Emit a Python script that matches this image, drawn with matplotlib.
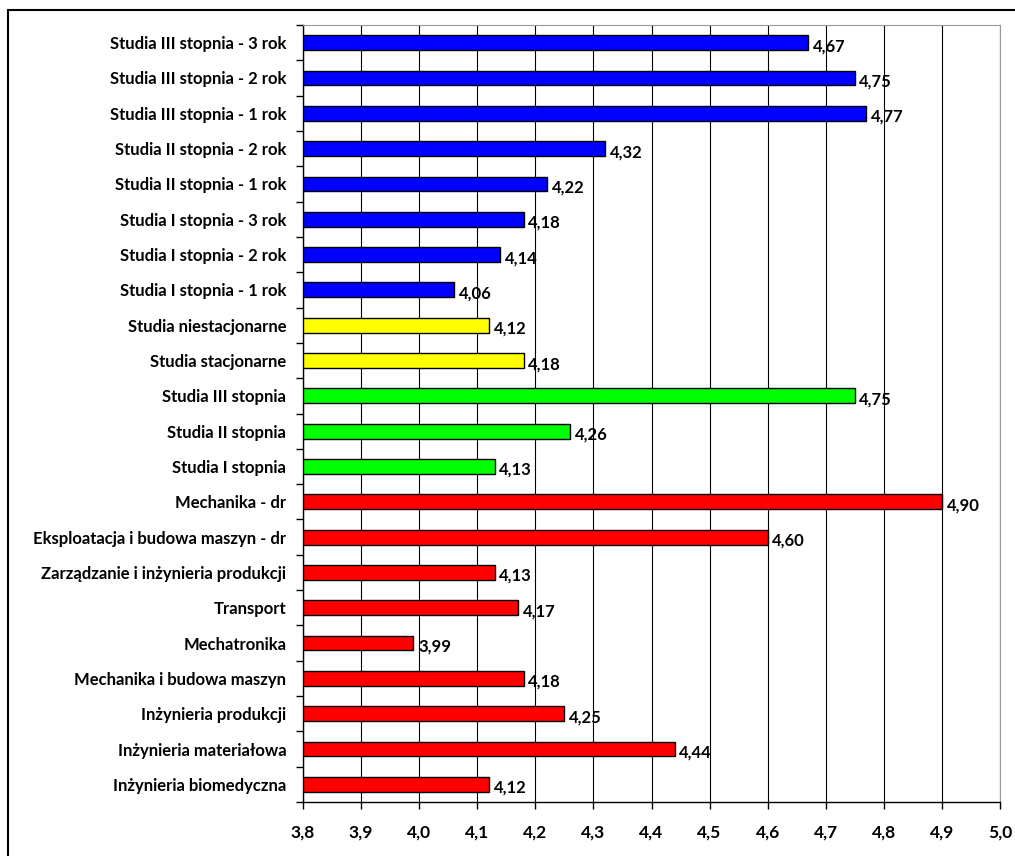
import matplotlib
matplotlib.use('Agg')
import matplotlib.pyplot as plt
from matplotlib.patches import Rectangle

categories = [
    'Inżynieria biomedyczna',
    'Inżynieria materiałowa',
    'Inżynieria produkcji',
    'Mechanika i budowa maszyn',
    'Mechatronika',
    'Transport',
    'Zarządzanie i inżynieria produkcji',
    'Eksploatacja i budowa maszyn - dr',
    'Mechanika - dr',
    'Studia I stopnia',
    'Studia II stopnia',
    'Studia III stopnia',
    'Studia stacjonarne',
    'Studia niestacjonarne',
    'Studia I stopnia - 1 rok',
    'Studia I stopnia - 2 rok',
    'Studia I stopnia - 3 rok',
    'Studia II stopnia - 1 rok',
    'Studia II stopnia - 2 rok',
    'Studia III stopnia - 1 rok',
    'Studia III stopnia - 2 rok',
    'Studia III stopnia - 3 rok',
]
values = [4.12, 4.44, 4.25, 4.18, 3.99, 4.17, 4.13, 4.60, 4.90,
          4.13, 4.26, 4.75,
          4.18, 4.12,
          4.06, 4.14, 4.18, 4.22, 4.32, 4.77, 4.75, 4.67]
groups = ['kier'] * 9 + ['stopien'] * 3 + ['forma'] * 2 + ['rok'] * 8
group_colors = {'kier': '#FF0000', 'stopien': '#00FF00', 'forma': '#FFFF00', 'rok': '#0000FF'}
x_ticks = [3.8, 3.9, 4.0, 4.1, 4.2, 4.3, 4.4, 4.5, 4.6, 4.7, 4.8, 4.9, 5.0]

plt.rcParams['font.family'] = ['Lato', 'DejaVu Sans']
plt.rcParams['font.weight'] = 'bold'

fig = plt.figure(figsize=(10.15, 8.56), dpi=100)
ax = fig.add_axes([303 / 1015, 1 - 802 / 856, 697 / 1015, 777 / 856])

# ramka wokół wykresu
fig.patches.append(Rectangle((8 / 1015, -0.1), 1.2, 1 - 10 / 856 + 0.1, transform=fig.transFigure,
                             fill=False, edgecolor='black', linewidth=1.5))

ypos = list(range(len(categories)))
colors = [group_colors[g] for g in groups]
ax.barh(ypos, [v - 3.8 for v in values], left=3.8, height=0.42, color=colors,
        edgecolor='black', linewidth=1.0, zorder=3)

for y, v in zip(ypos, values):
    ax.text(v + 0.008, y - 0.1, '{:.2f}'.format(v).replace('.', ','), va='center', ha='left',
            fontsize=12, fontweight='bold', zorder=4)

ax.set_xlim(3.8, 5.0)
ax.set_ylim(-0.5, len(categories) - 0.5)
ax.set_xticks(x_ticks)
ax.set_xticklabels(['{:.1f}'.format(t).replace('.', ',') for t in x_ticks], fontsize=12.5, fontweight='bold')
ax.set_yticks(ypos)
ax.set_yticklabels(categories, fontsize=12, fontweight='bold')
ax.set_yticks([y + 0.5 for y in range(-1, len(categories))], minor=True)
ax.tick_params(axis='y', which='major', length=0, pad=12)
ax.tick_params(axis='y', which='minor', length=5, width=1, direction='out')
ax.tick_params(axis='x', length=5, width=1, direction='out', pad=11)

ax.grid(axis='x', color='black', linewidth=0.8, zorder=0)
ax.spines['top'].set_color('#999999')
ax.spines['right'].set_color('#999999')
ax.spines['left'].set_linewidth(1.0)
ax.spines['bottom'].set_linewidth(1.0)

plt.savefig('out.png', dpi=100)
